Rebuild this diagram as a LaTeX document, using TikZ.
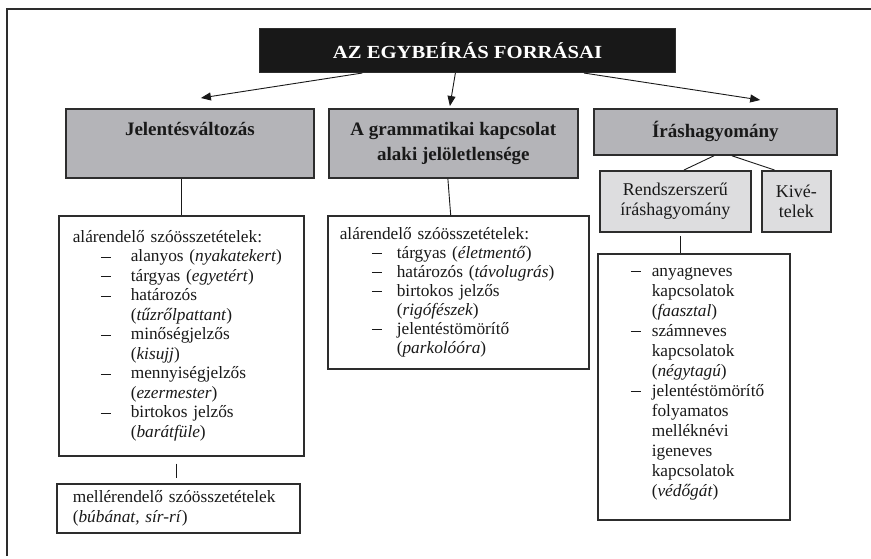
\documentclass[tikz,border=0pt]{standalone}
\usepackage{fontspec}
\setmainfont{Liberation Serif}
\newfontfamily\bodyf{Liberation Serif}
\newfontfamily\titlef[FakeStretch=1.12]{Liberation Serif}
\usetikzlibrary{arrows.meta,calc}
\definecolor{headgray}{RGB}{180,180,184}
\definecolor{subgray}{RGB}{221,221,223}
\definecolor{edge}{RGB}{45,45,45}
\definecolor{titlebg}{RGB}{24,24,24}
\definecolor{ink}{RGB}{25,25,25}
\newlength\dashind
\newlength\dashgap
\newcommand\Hd[1]{\noindent #1\par}
\newcommand\Dl[1]{\noindent\hspace*{\dashind}\rlap{\rule[4.6pt]{10.5pt}{0.75pt}}\hspace*{\dashgap}#1\par}
\newcommand\Cl[1]{\noindent\hspace*{\dashind}\hspace*{\dashgap}#1\par}
\lineskiplimit=-30pt\relax
\begin{document}
\begin{tikzpicture}[x=1pt,y=-1pt,
  frame/.style={draw=edge,line width=1.2pt},
  titlebox/.style={anchor=north west,fill=titlebg,draw=edge,line width=1pt,text=white,
    font=\titlef\bfseries\fontsize{18.5}{20}\selectfont,inner sep=0pt},
  headbox/.style={anchor=north west,fill=headgray,draw=edge,line width=1.8pt,text=ink,
    font=\bfseries\fontsize{19}{25}\selectfont,align=center,inner sep=0pt},
  subbox/.style={anchor=north west,fill=subgray,draw=edge,line width=1.8pt,text=ink,
    font=\fontsize{18}{19.5}\selectfont,align=center,inner sep=0pt},
  listbox/.style={anchor=north west,fill=white,draw=edge,line width=1.6pt,text=ink,inner ysep=0pt},
  arr/.style={-{Triangle[length=10pt,width=8pt]},line width=0.9pt,draw=ink},
  conn/.style={line width=0.9pt,draw=ink}]
\useasboundingbox (0,0) rectangle (871,558);
\draw[frame] (7,556) -- (7,9) -- (871,9);

\node[titlebox,minimum width=416pt,minimum height=44pt] (title) at (259,28) {AZ EGYBEÍRÁS FORRÁSAI};

\node[headbox,minimum width=248pt,minimum height=69pt] (jel) at (65,108)
  {Jelentésváltozás\\\phantom{alaki jelöletlensége}};
\node[headbox,minimum width=249pt,minimum height=69pt] (gram) at (328,108)
  {A grammatikai kapcsolat\\alaki jelöletlensége};
\node[headbox,minimum width=243pt,minimum height=46pt] (iras) at (593,108)
  {Íráshagyomány};

\node[subbox,minimum width=151pt,minimum height=61pt] (rend) at (599,170)
  {Rendszerszerű\\íráshagyomány};
\node[subbox,minimum width=69pt,minimum height=61pt] (kive) at (761,170)
  {Kivé-\\telek};

\node[listbox,inner xsep=14pt,text width=217pt,minimum height=240pt,
  font=\bodyf\fontsize{17.3}{19.5}\selectfont] (alist) at (58,215)
  {\setlength\dashind{28pt}\setlength\dashgap{30pt}%
   \Hd{alárendelő szóösszetételek:}
   \Dl{alanyos (\textit{nyakatekert})}
   \Dl{tárgyas (\textit{egyetért})}
   \Dl{határozós}
   \Cl{(\textit{tűzrőlpattant})}
   \Dl{minőségjelzős}
   \Cl{(\textit{kisujj})}
   \Dl{mennyiségjelzős}
   \Cl{(\textit{ezermester})}
   \Dl{birtokos jelzős}
   \Cl{(\textit{barátfüle})}};

\node[listbox,inner xsep=16pt,text width=211pt,minimum height=49pt,
  font=\bodyf\fontsize{17.3}{20}\selectfont] (mell) at (56,483)
  {\Hd{mellérendelő szóösszetételek}
   \Hd{(\textit{búbánat, sír-rí})}};

\node[listbox,inner xsep=12pt,text width=237pt,minimum height=153pt,
  font=\bodyf\fontsize{17.3}{19}\selectfont] (mlist) at (327,215)
  {\setlength\dashind{32pt}\setlength\dashgap{25pt}%
   \Hd{alárendelő szóösszetételek:}
   \Dl{tárgyas (\textit{életmentő})}
   \Dl{határozós (\textit{távolugrás})}
   \Dl{birtokos jelzős}
   \Cl{(\textit{rigófészek})}
   \Dl{jelentéstömörítő}
   \Cl{(\textit{parkolóóra})}};

\node[listbox,inner xsep=10pt,text width=172pt,minimum height=266pt,
  font=\bodyf\fontsize{17.3}{20}\selectfont] (rlist) at (597,253)
  {\setlength\dashind{23pt}\setlength\dashgap{21pt}%
   \Dl{anyagneves}
   \Cl{kapcsolatok}
   \Cl{(\textit{faasztal})}
   \Dl{számneves}
   \Cl{kapcsolatok}
   \Cl{(\textit{négytagú})}
   \Dl{jelentéstömörítő}
   \Cl{folyamatos}
   \Cl{melléknévi}
   \Cl{igeneves}
   \Cl{kapcsolatok}
   \Cl{(\textit{védőgát})}
   \vspace*{6pt}};

% arrows from the title
\draw[arr] ($(title.south west)!0.248!(title.south east)$) -- ($(jel.north west)!0.544!(jel.north east)+(0,-10)$);
\draw[arr] ($(title.south west)!0.471!(title.south east)$) -- ($(gram.north west)!0.486!(gram.north east)+(0,-2)$);
\draw[arr] ($(title.south west)!0.779!(title.south east)$) -- ($(iras.north west)!0.683!(iras.north east)+(0,-8)$);

% connectors
\coordinate (j1) at ($(jel.south west)!0.468!(jel.south east)$);
\draw[conn] (j1) -- (j1 |- alist.north);
\coordinate (a1) at ($(alist.south west)!0.482!(alist.south east)$);
\draw[conn,shorten <=7pt,shorten >=5pt] (a1) -- (a1 |- mell.north);
\draw[conn] ($(gram.south west)!0.478!(gram.south east)$) -- ($(mlist.north west)!0.471!(mlist.north east)$);
\draw[conn] ($(iras.south west)!0.494!(iras.south east)$) -- ($(rend.north west)!0.556!(rend.north east)$);
\draw[conn] ($(iras.south west)!0.568!(iras.south east)$) -- ($(kive.north west)!0.19!(kive.north east)$);
\coordinate (r1) at ($(rend.south west)!0.53!(rend.south east)$);
\draw[conn,shorten <=3pt] (r1) -- (r1 |- rlist.north);
\end{tikzpicture}
\end{document}
